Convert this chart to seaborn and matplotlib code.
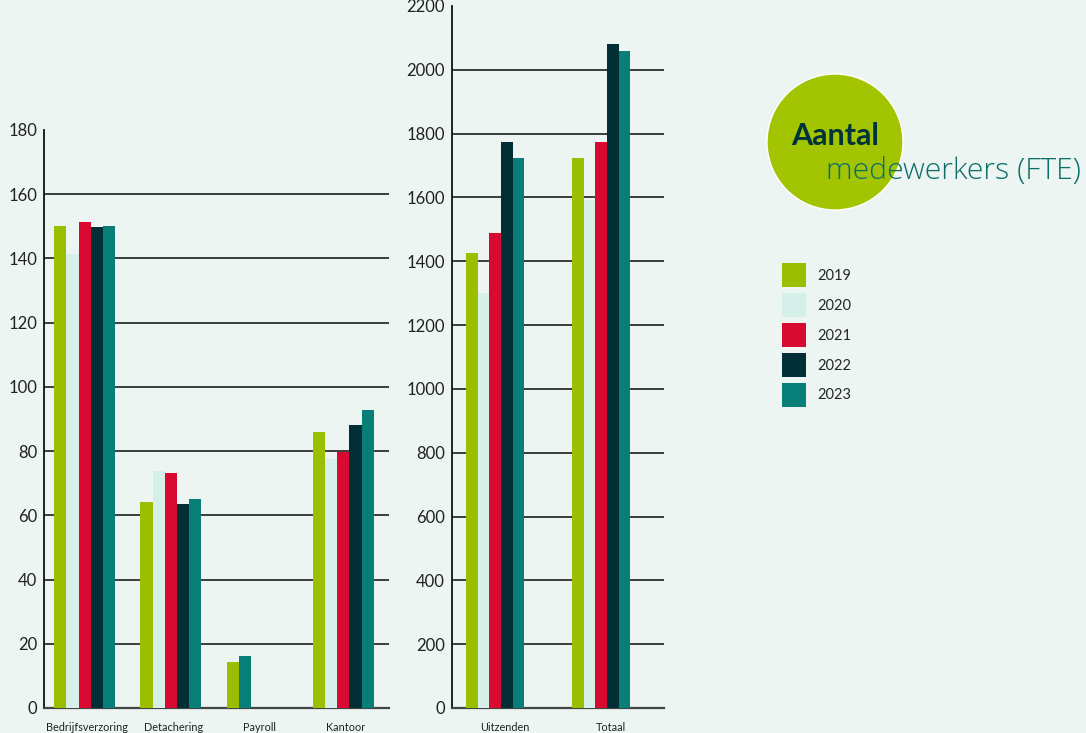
import numpy as np
import pandas as pd
import seaborn as sns
import matplotlib.pyplot as plt
import matplotlib.patches as mpatches
from matplotlib.ticker import FixedLocator


# Years and their colours
YEARS = ["2019", "2020", "2021", "2022", "2023"]
COLORS = ["#9bbf00", "#d6efe8", "#d90a32", "#022e36", "#087e78"]

# Left panel (small units)
LEFT_CATS = ["Bedrijfsverzoring", "Detachering", "Payroll", "Kantoor"]
LEFT_2019 = [150.0, 64.2, 14.3, 86.0]
LEFT_2020 = [141.5, 73.8, np.nan, 77.5]
LEFT_2021 = [151.4, 73.2, np.nan, 79.8]
LEFT_2022 = [149.8, 63.5, np.nan, 88.1]
LEFT_2023 = [150.1, 65.1, 16.2, 92.8]

# Right panel (large units)
RIGHT_CATS = ["Uitzenden", "Totaal"]
RIGHT_2019 = [1426, 1723]
RIGHT_2020 = [1301, 1591]
RIGHT_2021 = [1488, 1773]
RIGHT_2022 = [1773, 2080]
RIGHT_2023 = [1723, 2058]

BG = "#ecf5f1"
W, H = 1086, 733


def to_long(cats, series):
    rows = []
    for year, values in zip(YEARS, series):
        for cat, v in zip(cats, values):
            rows.append({"categorie": cat, "jaar": year, "fte": v})
    return pd.DataFrame(rows).dropna()


def pack_bars(ax, lead):
    # missing years collapse: the bars of a group sit side by side from the left
    groups = {}
    for p in ax.patches:
        if p.get_width() == 0:  # legend proxies
            continue
        c = int(round(p.get_x() + p.get_width() / 2))
        groups.setdefault(c, []).append(p)
    for c, bars in groups.items():
        bars.sort(key=lambda b: b.get_x())
        w = bars[0].get_width()
        start = c - 0.5 + lead
        for k, b in enumerate(bars):
            b.set_x(start + k * w)


def draw_panel(ax, df, cats, width, lead, ymax, step, legend):
    sns.barplot(data=df, x="categorie", y="fte", hue="jaar", order=cats,
                hue_order=YEARS, palette=COLORS, width=width, linewidth=0,
                saturation=1, errorbar=None, legend=legend, ax=ax, zorder=3)
    pack_bars(ax, lead)
    ax.set_facecolor(BG)
    ax.set_xlim(-0.5, len(cats) - 0.5)
    ax.set_ylim(0, ymax)
    ax.set_yticks(np.arange(0, ymax + 1, step))
    ax.set_xlabel("")
    ax.set_ylabel("")
    ax.grid(axis="y", color="#1e1e1e", lw=1.2, zorder=0)
    ax.set_axisbelow(True)
    ax.yaxis.get_gridlines()[-1].set_visible(False)
    ax.xaxis.set_minor_locator(FixedLocator(np.arange(0.5, len(cats), 1)))
    ax.tick_params(axis="x", which="major", length=0, pad=10, labelsize=7.8,
                   labelcolor="#222222")
    ax.tick_params(axis="x", which="minor", direction="in", length=8,
                   width=1.3, color="#333333")
    ax.tick_params(axis="y", direction="in", length=6, width=1.2,
                   color="#1e1e1e", pad=5, labelsize=12, labelcolor="#222222")
    for s in ["top", "right"]:
        ax.spines[s].set_visible(False)
    ax.spines["left"].set_color("#111111")
    ax.spines["left"].set_linewidth(1.3)
    ax.spines["bottom"].set_color("#444444")
    ax.spines["bottom"].set_linewidth(1.6)


def main():
    sns.set_theme(style="white")
    plt.rcParams["font.family"] = ["Lato", "DejaVu Sans"]

    fig = plt.figure(figsize=(W / 100, H / 100), dpi=100, facecolor=BG)
    ax_l = fig.add_axes([44 / W, 25 / H, 345 / W, 578 / H])
    ax_r = fig.add_axes([452 / W, 25 / H, 212 / W, 702 / H])

    left_df = to_long(LEFT_CATS, [LEFT_2019, LEFT_2020, LEFT_2021, LEFT_2022, LEFT_2023])
    right_df = to_long(RIGHT_CATS, [RIGHT_2019, RIGHT_2020, RIGHT_2021, RIGHT_2022, RIGHT_2023])

    draw_panel(ax_l, left_df, LEFT_CATS, 0.71, 0.116, 180, 20, legend=True)
    draw_panel(ax_r, right_df, RIGHT_CATS, 0.55, 0.133, 2200, 200, legend=False)

    sns.move_legend(ax_l, "upper left", bbox_to_anchor=(782 / W, 1 - 263 / H),
                    bbox_transform=fig.transFigure, frameon=False, title=None,
                    fontsize=10.5, handlelength=1.65, handleheight=2.155,
                    labelspacing=0.41, handletextpad=0.8, borderpad=0,
                    borderaxespad=0)

    # Title badge
    fig.add_artist(mpatches.Ellipse((835 / W, 1 - 142 / H), 136 / W, 136 / H,
                                    transform=fig.transFigure, facecolor="#a3c400",
                                    edgecolor="white", lw=1))
    fig.text(791 / W, 1 - 145 / H, "Aantal", fontsize=22, fontweight="bold",
             color="#00333a", va="baseline", ha="left")
    fig.text(826 / W, 1 - 179 / H, "medewerkers (FTE)", fontsize=21.7,
             fontweight="light", color="#0d6e68", va="baseline", ha="left",
             family=["Open Sans", "DejaVu Sans"])

    fig.savefig("out.png", dpi=100, facecolor=BG)
    plt.close(fig)


if __name__ == "__main__":
    main()
